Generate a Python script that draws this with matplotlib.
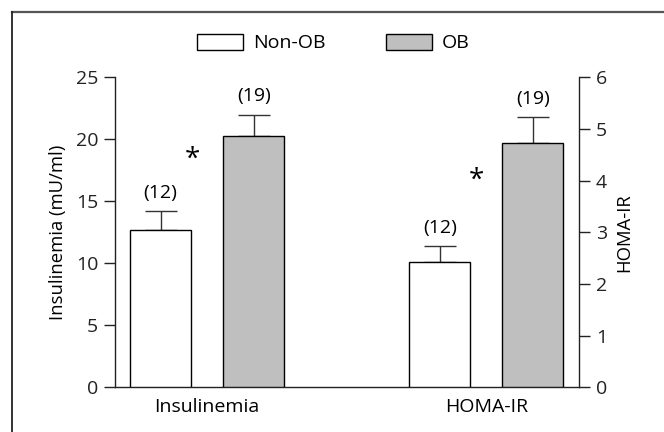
import matplotlib
matplotlib.use("Agg")
import matplotlib.pyplot as plt
from matplotlib.patches import Patch
from matplotlib.lines import Line2D

plt.rcParams['font.family'] = ['Open Sans', 'DejaVu Sans']

# --- data ----------------------------------------------------------
groups = ["Insulinemia", "HOMA-IR"]
series = ["Non-OB", "OB"]
insulin_mean = [12.7, 20.3]
insulin_err = [1.5, 1.7]
homa_mean = [2.42, 4.72]
homa_err = [0.31, 0.51]
n_labels = ["(12)", "(19)"]

fill_colors = ["white", "#bfbfbf"]
bar_w = 0.66
fs = 14

fig = plt.figure(figsize=(6.64, 4.32), dpi=100)
ax = fig.add_axes([115 / 664, 1 - 387.3 / 432, 464.3 / 664, 310 / 432])
ax2 = ax.twinx()

# --- left axis: insulinemia ----------------------------------------
x_ins = [0, 1]
for i in range(2):
    ax.bar(x_ins[i], insulin_mean[i], width=bar_w, color=fill_colors[i],
           edgecolor="black", linewidth=1.0, zorder=3)
    ax.errorbar(x_ins[i], insulin_mean[i], yerr=[[0], [insulin_err[i]]],
                fmt="none", ecolor="#333333", elinewidth=1.0, capsize=11.5,
                capthick=1.0, zorder=2)
    ax.text(x_ins[i], insulin_mean[i] + insulin_err[i] + 0.75, n_labels[i],
            ha="center", va="bottom", fontsize=fs)
ax.text(0.34, 18.35, "*", ha="center", va="center", fontsize=20)

# --- right axis: HOMA-IR -------------------------------------------
x_homa = [3, 4]
for i in range(2):
    ax2.bar(x_homa[i], homa_mean[i], width=bar_w, color=fill_colors[i],
            edgecolor="black", linewidth=1.0, zorder=3)
    ax2.errorbar(x_homa[i], homa_mean[i], yerr=[[0], [homa_err[i]]],
                 fmt="none", ecolor="#333333", elinewidth=1.0, capsize=11.5,
                 capthick=1.0, zorder=2)
    ax2.text(x_homa[i], homa_mean[i] + homa_err[i] + 0.18, n_labels[i],
             ha="center", va="bottom", fontsize=fs)
ax2.text(3.39, 4.0, "*", ha="center", va="center", fontsize=20)

ax.set_xlim(-0.49, 4.5)
ax.set_ylim(0, 25)
ax2.set_ylim(0, 6)
ax.set_yticks([0, 5, 10, 15, 20, 25])
ax2.set_yticks([0, 1, 2, 3, 4, 5, 6])
ax.set_xticks([0.5, 3.5])
ax.set_xticklabels(groups)

for a in (ax, ax2):
    a.spines["top"].set_visible(False)
    for s in a.spines.values():
        s.set_linewidth(1.0)
        s.set_color("#222222")
    a.tick_params(axis="y", direction="out", length=8, width=1.0,
                  labelsize=fs, colors="#222222", pad=4)
ax.spines["right"].set_visible(False)
ax2.spines["left"].set_visible(False)
ax2.spines["bottom"].set_visible(False)
ax.tick_params(axis="x", length=0, labelsize=fs, pad=8)

ax.set_ylabel("Insulinemia (mU/ml)", fontsize=13.3, labelpad=6)
ax2.set_ylabel("HOMA-IR", fontsize=13.3, labelpad=6)

# --- legend --------------------------------------------------------
handles = [Patch(facecolor=fill_colors[i], edgecolor="black", linewidth=1.0)
           for i in range(2)]
fig.legend(handles, series, loc="center", bbox_to_anchor=(333 / 664, 1 - 43 / 432),
           ncol=2, frameon=False, fontsize=fs, handlelength=2.37,
           handleheight=0.88, columnspacing=3.1, handletextpad=0.5)

# --- outer frame (top and left edges only) ---------------------------
fig.add_artist(Line2D([11.5 / 664, 1], [1 - 11.5 / 432, 1 - 11.5 / 432],
                      color="#555555", linewidth=1.6))
fig.add_artist(Line2D([11.5 / 664, 11.5 / 664], [0, 1 - 11.5 / 432],
                      color="#222222", linewidth=1.3))

fig.savefig("out.png", dpi=100)
